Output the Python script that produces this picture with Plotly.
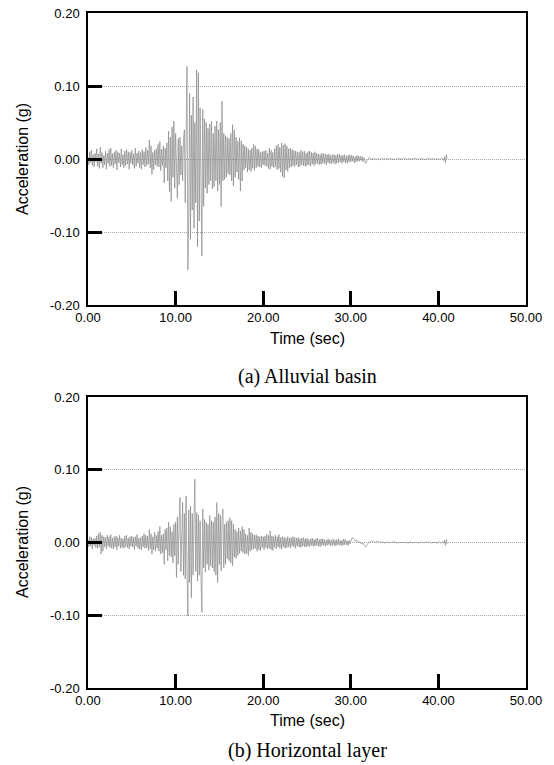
import numpy as np
import plotly.graph_objects as go

# Sampling of the digitised records (s)
dt = 0.1

# (a) Alluvial basin - acceleration in milli-g, 0.1 s steps from 0.0 s to 41.0 s
acc_a_mg = [
    3, -8, 10, -5, 12, -9, 6, -11, 8, -4,
    14, -10, 7, -13, 16, -6, 9, -12, 5, -8,
    11, -14, 8, -6, 13, -10, 15, -9, 7, -12,
    9, -7, 12, -15, 10, -5, 8, -11, 14, -8,
    6, -12, 11, -9, 13, -7, 10, -14, 9, -6,
    12, -8, 7, -13, 15, -10, 8, -6, 11, -12,
    9, -14, 13, -8, 10, -11, 16, -9, 12, -7,
    26, -12, 18, -21, 9, -15, 12, -8, 14, -10,
    20, -11, 24, -16, 13, -9, 18, -33, 15, -12,
    22, -30, 38, -45, 30, -58, 44, -25, 52, -40,
    35, -20, -54, 28, -35, 30, -22, 18, -30, 25,
    40, -60, 95, 127, -152, -80, 90, -110, 60, -70,
    85, -95, 50, -60, 122, -120, 118, -85, 70, -100,
    -133, 68, -65, 55, -40, 50, -47, 42, -35, 48,
    -30, 52, -41, 35, -38, 45, -30, 52, -44, 40,
    -35, 50, -65, 79, -30, 35, -28, 32, -25, 30,
    -20, 28, -22, 35, -30, 47, -37, 40, -25, 30,
    -18, 24, -28, 29, -44, 25, -30, 20, -15, 18,
    -12, 16, -18, 14, -15, 12, -17, 15, -13, 20,
    -16, 18, -12, 14, -10, 13, -11, 9, -12, 10,
    -8, 11, -9, 12, -10, 8, -13, 15, -14, 12,
    -10, 9, -12, 14, -11, 18, -15, 20, -13, 16,
    -18, 22, -24, 19, -26, 21, -15, 18, -17, 14,
    -12, 15, -11, 13, -9, 12, -10, 11, -8, 10,
    -11, 9, -10, 12, -8, 10, -9, 11, -10, 8,
    -9, 10, -8, 11, -10, 9, -7, 8, -9, 10,
    -7, 8, -6, 7, -8, 6, -7, 8, -6, 7,
    -6, 7, -8, 6, -5, 7, -6, 5, -7, 6,
    -5, 6, -7, 5, -6, 7, -5, 6, -4, 5,
    -6, 5, -4, 6, -5, 4, -6, 5, -4, 6,
    -4, 5, -3, 4, -5, 3, -4, 5, -3, 4,
    -3, 4, -2, 3, -4, 2, -5, -6, -3, -1,
    1, 2, 1, 0, -1, 1, 0, 1, 0, -1,
    0, 1, 0, -1, 0, 1, 0, 0, -1, 0,
    1, 0, 0, -1, 0, 1, 0, 0, 1, 0,
    0, -1, 0, 0, 1, 0, 0, -1, 0, 0,
    1, 0, 0, 0, -1, 0, 1, 0, 0, 0,
    0, -1, 0, 1, 0, 0, 0, -1, 0, 1,
    0, 0, 1, 0, -1, 0, 0, 0, 1, 0,
    0, -1, 0, 0, 1, 0, 0, -1, 0, 0,
    1, 0, -1, 0, 1, 0, -2, 3, -5, 6,
    0,
]

# (b) Horizontal layer - acceleration in milli-g, same time steps
acc_b_mg = [
    4, -6, 8, -5, 7, -9, 5, -4, 6, -7,
    9, -8, 12, -6, 14, -16, 10, -12, 8, -6,
    7, -9, 10, -5, 8, -7, 11, -8, 6, -9,
    8, -6, 9, -10, 7, -5, 10, -8, 6, -7,
    5, -8, 9, -6, 10, -7, 6, -9, 8, -5,
    9, -6, 7, -10, 8, -5, 11, -8, 6, -9,
    7, -10, 9, -6, 12, -8, 10, -7, 9, -11,
    18, -9, 12, -16, 8, -10, 14, -12, 10, -8,
    15, -12, 22, -16, 10, -14, 12, -30, 18, -10,
    20, -25, 28, -18, 22, -20, 15, -28, 25, -18,
    28, -48, 35, -30, 25, 62, -40, 30, 55, -45,
    40, -50, 64, -35, -101, 45, -55, 50, -76, 40,
    -45, 35, 87, -40, 41, -53, 38, -45, 30, -50,
    -96, 46, -35, 32, -41, 28, -30, 25, -38, 37,
    -32, 30, -35, 28, -40, 35, -45, 55, -55, 40,
    -30, 38, -39, 30, 46, -35, 25, -30, 28, -22,
    30, -25, 34, -28, 30, -32, 25, -20, 18, -22,
    15, -18, 20, -15, 16, -12, 22, -14, 18, -16,
    12, -15, 10, -18, 20, -12, 14, -10, 12, -9,
    10, -8, 11, -12, 9, -10, 8, -11, 9, -7,
    8, -10, 9, -7, 11, -9, 10, -8, 16, -10,
    9, -11, 8, -7, 10, -9, 8, -6, 11, -8,
    7, -9, 8, -6, 7, -8, 6, -7, 8, -6,
    6, -8, 7, -5, 8, -6, 7, -8, 6, -5,
    7, -6, 5, -7, 6, -5, 7, -6, 5, -6,
    6, -5, 4, -6, 5, -4, 6, -5, 4, -5,
    5, -4, 6, -5, 4, -6, 5, -4, 5, -4,
    4, -5, 3, -4, 5, -3, 4, -5, 3, -4,
    5, -4, 3, -5, 4, -3, 5, -4, 3, -4,
    3, -4, 5, -3, 4, -3, 2, -4, 3, -2,
    3, 5, 7, 6, 4, 2, 3, 1, 2, 0,
    1, -1, 0, -2, -1, -3, -5, -6, -4, -2,
    0, 1, 0, 1, 2, 1, 2, 1, 0, 1,
    2, 1, 0, 1, 0, 0, 1, 0, 0, -1,
    0, 1, 0, 0, -1, 0, 0, 1, 0, 0,
    1, 0, 0, -1, 0, 0, 1, 0, 0, 0,
    0, 0, 1, 0, 0, -1, 0, 0, 1, 0,
    -1, 0, 0, 1, 0, 0, 0, -1, 0, 0,
    0, 1, 0, 0, -1, 0, 1, 0, 0, 0,
    1, 0, -1, 0, 0, 1, 0, 0, -1, 0,
    0, 1, 0, -1, 0, 1, -1, 3, -4, 4,
    -2,
]

x_ticks = [0, 10, 20, 30, 40, 50]
x_ticklabels = ["0.00", "10.00", "20.00", "30.00", "40.00", "50.00"]
y_ticks = [-0.2, -0.1, 0.0, 0.1, 0.2]
y_ticklabels = ["-0.20", "-0.10", "0.00", "0.10", "0.20"]
captions = ["(a) Alluvial basin", "(b) Horizontal layer"]

W, H = 554, 765
def px(x):
    return x / W
def py(y):
    return 1 - y / H

acc_a = np.array(acc_a_mg) / 1000.0
acc_b = np.array(acc_b_mg) / 1000.0
t_a = np.round(np.arange(len(acc_a)) * dt, 3)
t_b = np.round(np.arange(len(acc_b)) * dt, 3)

fig = go.Figure()
line_style = dict(color="#8a8a8a", width=0.7)
fig.add_trace(go.Scatter(x=t_a, y=acc_a, mode="lines", line=line_style,
                         xaxis="x", yaxis="y", showlegend=False))
fig.add_trace(go.Scatter(x=t_b, y=acc_b, mode="lines", line=line_style,
                         xaxis="x2", yaxis="y2", showlegend=False))

tick_font = dict(family="Liberation Sans, Arial, sans-serif", size=13, color="black")

def xaxis(anchor):
    return dict(
        domain=[px(88), px(526)], anchor=anchor, range=[0, 50],
        tickvals=x_ticks, ticktext=x_ticklabels, ticks="inside", ticklen=14,
        tickwidth=2.5, tickcolor="black", showline=True, linecolor="black",
        linewidth=1.5, mirror=True, showgrid=False, zeroline=False,
        tickfont=tick_font, automargin=False, layer="above traces",
    )

def yaxis(anchor, dom):
    return dict(
        domain=dom, anchor=anchor, range=[-0.2, 0.2],
        tickvals=y_ticks, ticktext=y_ticklabels, ticks="inside", ticklen=14,
        tickwidth=2.5, tickcolor="black", showline=True, linecolor="black",
        linewidth=1.5, mirror=True, showgrid=True, gridcolor="#a8a8a8",
        griddash="1px,1px", gridwidth=1, zeroline=False, tickfont=tick_font,
        ticklabelstandoff=4, automargin=False, layer="above traces",
    )

fig.update_layout(
    width=W, height=H, margin=dict(l=0, r=0, t=0, b=0, autoexpand=False),
    paper_bgcolor="white", plot_bgcolor="white",
    xaxis=xaxis("y"), yaxis=yaxis("x", [py(305), py(13)]),
    xaxis2=xaxis("y2"), yaxis2=yaxis("x2", [py(688), py(397)]),
)

ann = []
lab_font = dict(family="Liberation Sans, Arial, sans-serif", size=16, color="black")
cap_font = dict(family="Liberation Serif, Times New Roman, serif", size=20, color="black")
for (ymid, ytime, ycap, cap) in [(159, 338, 376, captions[0]), (542, 720, 750, captions[1])]:
    ann.append(dict(text="Acceleration (g)", x=px(22), y=py(ymid), xref="paper", yref="paper",
                    showarrow=False, textangle=-90, font=lab_font, xanchor="center", yanchor="middle"))
    ann.append(dict(text="Time (sec)", x=px(307), y=py(ytime), xref="paper", yref="paper",
                    showarrow=False, font=lab_font, xanchor="center", yanchor="middle"))
    ann.append(dict(text=cap, x=px(307), y=py(ycap), xref="paper", yref="paper",
                    showarrow=False, font=cap_font, xanchor="center", yanchor="middle"))
fig.update_layout(annotations=ann)

fig.write_html("out.html")
